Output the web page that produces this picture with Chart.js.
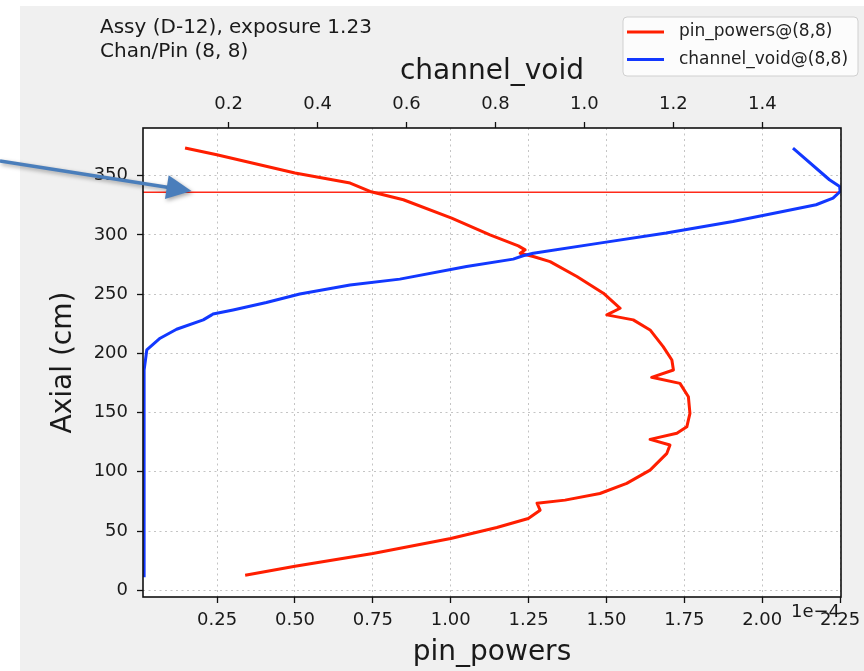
<!DOCTYPE html>
<html>
<head>
<meta charset="utf-8">
<script src="https://cdn.jsdelivr.net/npm/chart.js@4.4.0/dist/chart.umd.min.js"></script>
<style>
  html, body { margin: 0; padding: 0; background: #fff; }
</style>
</head>
<body>
<canvas id="axialChart" width="864" height="671"></canvas>
<script>
// pin_powers are kept in units of 1e-4 (shown as offset text on the axis)
const pinAxial = [12.7, 20.3, 31.0, 43.7, 53.0, 60.6, 67.6, 73.5, 76.1, 81.7, 90.2, 101.4,
  115.6, 122.6, 127.4, 132.5, 138.0, 149.4, 163.4, 174.7, 179.8, 186.0, 194.4, 205.7,
  219.8, 228.3, 232.5, 238.1, 250.8, 264.9, 277.5, 281.8, 284.6, 287.4, 290.8, 300.1,
  314.2, 329.7, 336.7, 343.8, 352.3, 367.7, 373.4];
const pinPowers = [0.34, 0.50, 0.75, 1.00, 1.148, 1.249, 1.287, 1.277, 1.367, 1.479, 1.565, 1.640,
  1.694, 1.704, 1.640, 1.726, 1.758, 1.768, 1.763, 1.736, 1.645, 1.715, 1.710, 1.682,
  1.640, 1.586, 1.501, 1.544, 1.490, 1.405, 1.319, 1.265, 1.223, 1.239, 1.217, 1.126,
  1.003, 0.848, 0.741, 0.677, 0.500, 0.249, 0.147];

const voidAxial = [11.0, 186.0, 202.9, 212.8, 220.4, 228.3, 232.5, 233.3, 236.7, 242.9, 250.2,
  257.8, 262.7, 273.3, 279.6, 282.4, 284.6, 293.1, 301.6, 311.4, 319.8, 325.5, 331.1,
  336.7, 340.9, 346.6, 373.4];
const channelVoid = [0.010, 0.010, 0.016, 0.046, 0.083, 0.143, 0.162, 0.165, 0.210, 0.285, 0.360,
  0.473, 0.585, 0.735, 0.840, 0.862, 0.885, 1.034, 1.184, 1.334, 1.446, 1.521, 1.559,
  1.575, 1.574, 1.551, 1.469];

const markerAxial = 336;

const pinTicks = [0.25, 0.5, 0.75, 1.0, 1.25, 1.5, 1.75, 2.0, 2.25];
const voidTicks = [0.2, 0.4, 0.6, 0.8, 1.0, 1.2, 1.4];
const axialTicks = [0, 50, 100, 150, 200, 250, 300, 350];

const pinRange = [0.012, 2.253];
const voidRange = [0.0075, 1.577];
const axialRange = [-5.7, 390.3];

const headerLines = ['Assy (D-12), exposure 1.23', 'Chan/Pin (8, 8)'];
const pinOffsetText = '1e\u22124';

const FONT = "'DejaVu Sans', sans-serif";
Chart.defaults.font.family = FONT;
Chart.defaults.color = '#1a1a1a';

const RED = '#ff1e00';
const BLUE = '#1238ff';

function toPoints(ys, xs) {
  return ys.map((y, i) => ({x: xs[i], y: y}));
}

function fixedTicks(values) {
  return (axis) => { axis.ticks = values.map(v => ({value: v})); };
}

// figure background, legend, header text, frame and the pointer arrow
const decorations = {
  id: 'decorations',
  beforeDraw(chart) {
    const {ctx, chartArea: a} = chart;
    ctx.save();
    ctx.fillStyle = '#ffffff';
    ctx.fillRect(0, 0, chart.width, chart.height);
    ctx.fillStyle = '#f0f0f0';
    ctx.fillRect(20, 6, chart.width - 20, chart.height - 6);
    ctx.fillStyle = '#ffffff';
    ctx.fillRect(a.left, a.top, a.right - a.left, a.bottom - a.top);
    ctx.restore();
  },
  afterDraw(chart) {
    const {ctx, chartArea: a} = chart;
    ctx.save();

    // frame
    ctx.strokeStyle = '#111';
    ctx.lineWidth = 1.6;
    ctx.strokeRect(a.left, a.top, a.right - a.left, a.bottom - a.top);

    // header text
    ctx.fillStyle = '#1a1a1a';
    ctx.font = '20px ' + FONT;
    ctx.textAlign = 'left';
    ctx.textBaseline = 'alphabetic';
    headerLines.forEach((t, i) => ctx.fillText(t, 100, 33 + i * 24));

    // offset text of the pin_powers axis
    ctx.font = '18px ' + FONT;
    ctx.textAlign = 'right';
    ctx.fillText(pinOffsetText, a.right - 1, a.bottom + 20);

    // legend
    const bx = 623, by = 17, bw = 235, bh = 59;
    ctx.beginPath();
    ctx.roundRect(bx, by, bw, bh, 4);
    ctx.fillStyle = 'rgba(255,255,255,0.8)';
    ctx.fill();
    ctx.strokeStyle = '#d0d0d0';
    ctx.lineWidth = 1;
    ctx.stroke();
    ctx.font = '17px ' + FONT;
    ctx.textAlign = 'left';
    ctx.textBaseline = 'middle';
    let row = 0;
    chart.data.datasets.forEach(ds => {
      if (!ds.label) return;
      const y = by + 15 + row * 27.6;
      ctx.strokeStyle = ds.borderColor;
      ctx.lineWidth = 3;
      ctx.beginPath();
      ctx.moveTo(627, y);
      ctx.lineTo(664, y);
      ctx.stroke();
      ctx.fillStyle = '#222';
      ctx.fillText(ds.label, 679, y);
      row++;
    });

    // pointer arrow
    const tip = {x: 191.5, y: 191};
    const start = {x: 0, y: 161};
    const dx = tip.x - start.x, dy = tip.y - start.y;
    const len = Math.hypot(dx, dy);
    const ux = dx / len, uy = dy / len;
    const headL = 25, headW = 12;
    const bxm = tip.x - ux * headL, bym = tip.y - uy * headL;
    ctx.shadowColor = 'rgba(0,0,0,0.35)';
    ctx.shadowBlur = 4;
    ctx.shadowOffsetX = 1.5;
    ctx.shadowOffsetY = 2;
    ctx.strokeStyle = '#4a7ebb';
    ctx.fillStyle = '#4a7ebb';
    ctx.lineWidth = 3.5;
    ctx.beginPath();
    ctx.moveTo(start.x, start.y);
    ctx.lineTo(bxm + ux * 2, bym + uy * 2);
    ctx.stroke();
    ctx.beginPath();
    ctx.moveTo(tip.x, tip.y);
    ctx.lineTo(bxm - uy * headW, bym + ux * headW);
    ctx.lineTo(bxm + uy * headW, bym - ux * headW);
    ctx.closePath();
    ctx.fill();

    ctx.restore();
  }
};

const tickFont = {size: 18};
const titleFont = {size: 28};

new Chart(document.getElementById('axialChart'), {
  type: 'scatter',
  data: {
    datasets: [
      {
        label: 'pin_powers@(8,8)',
        data: toPoints(pinAxial, pinPowers),
        xAxisID: 'x',
        showLine: true,
        borderColor: RED,
        borderWidth: 3,
        pointRadius: 0,
        borderJoinStyle: 'round',
        order: 1
      },
      {
        label: 'channel_void@(8,8)',
        data: toPoints(voidAxial, channelVoid),
        xAxisID: 'x2',
        showLine: true,
        borderColor: BLUE,
        borderWidth: 3,
        pointRadius: 0,
        borderJoinStyle: 'round',
        order: 0
      },
      {
        // horizontal marker across the plot
        data: [{x: pinRange[0], y: markerAxial}, {x: pinRange[1], y: markerAxial}],
        xAxisID: 'x',
        showLine: true,
        borderColor: '#ff2a1a',
        borderWidth: 1.6,
        pointRadius: 0,
        order: 2
      }
    ]
  },
  options: {
    responsive: false,
    animation: false,
    events: [],
    layout: {padding: {left: 20, top: 0, right: 23, bottom: 0}},
    plugins: {
      legend: {display: false},
      tooltip: {enabled: false}
    },
    scales: {
      x: {
        type: 'linear',
        position: 'bottom',
        min: pinRange[0],
        max: pinRange[1],
        afterBuildTicks: fixedTicks(pinTicks),
        afterFit: (s) => { s.height = 74; s.paddingLeft = 0; s.paddingRight = 0; },
        ticks: {font: tickFont, padding: 7, maxRotation: 0, autoSkip: false,
          callback: (v) => Number(v).toFixed(2)},
        grid: {color: '#c4c4c4', lineWidth: 1, tickLength: 6, tickColor: '#111', tickWidth: 1.3},
        border: {display: false, dash: [2, 3.5]},
        title: {display: true, text: 'pin_powers', font: titleFont, padding: {top: 0, bottom: 1}}
      },
      x2: {
        type: 'linear',
        position: 'top',
        min: voidRange[0],
        max: voidRange[1],
        afterBuildTicks: fixedTicks(voidTicks),
        afterFit: (s) => { s.height = 128; s.paddingLeft = 0; s.paddingRight = 0; },
        ticks: {font: tickFont, padding: 7, maxRotation: 0, autoSkip: false,
          callback: (v) => Number(v).toFixed(1)},
        grid: {drawOnChartArea: false, color: '#111', tickLength: 6, tickColor: '#111', tickWidth: 1.3},
        border: {display: false},
        title: {display: true, text: 'channel_void', font: titleFont, padding: {top: 55, bottom: 0}}
      },
      y: {
        type: 'linear',
        position: 'left',
        min: axialRange[0],
        max: axialRange[1],
        afterBuildTicks: fixedTicks(axialTicks),
        afterFit: (s) => { s.width = 123; s.paddingTop = 0; s.paddingBottom = 0; },
        ticks: {font: tickFont, padding: 9, autoSkip: false, callback: (v) => String(v)},
        grid: {color: '#c4c4c4', lineWidth: 1, tickLength: 6, tickColor: '#111', tickWidth: 1.3},
        border: {display: false, dash: [2, 3.5]},
        title: {display: true, text: 'Axial (cm)', font: titleFont, padding: {top: 27, bottom: 0}}
      }
    }
  },
  plugins: [decorations]
});
</script>
</body>
</html>
